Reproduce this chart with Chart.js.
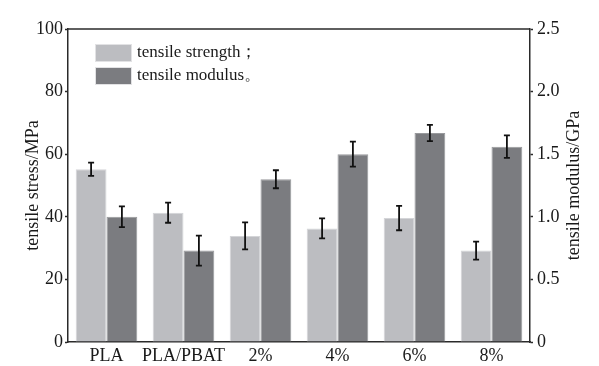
<!DOCTYPE html>
<html>
<head>
<meta charset="utf-8">
<script src="https://cdn.jsdelivr.net/npm/chart.js@4.4.0/dist/chart.umd.min.js"></script>
<style>
  html, body { margin: 0; padding: 0; background: #fff; }
  #wrap { width: 599px; height: 366px; }
</style>
</head>
<body>
<div id="wrap"><canvas id="grafico" width="599" height="366"></canvas></div>
<script>
// dados
var categorias = ['PLA', 'PLA/PBAT', '2%', '4%', '6%', '8%'];
var resistencia = [55.2, 41.3, 33.9, 36.3, 39.6, 29.2];       // MPa
var resistenciaErro = [2.1, 3.2, 4.3, 3.2, 3.9, 2.9];
var modulo = [1.00, 0.73, 1.30, 1.50, 1.67, 1.56];            // GPa
var moduloErro = [0.083, 0.12, 0.072, 0.10, 0.065, 0.09];
var ticksEsquerda = [0, 20, 40, 60, 80, 100];
var ticksDireita = [0, 0.5, 1.0, 1.5, 2.0, 2.5];

var fonte = '"Liberation Serif", "Times New Roman", serif';
var corTexto = '#1a1a1a';
var corEixo = '#2a2a2a';

// barras de erro
var barrasErro = {
  id: 'barrasErro',
  afterDatasetsDraw: function(chart) {
    var ctx = chart.ctx;
    ctx.save();
    ctx.strokeStyle = '#111';
    ctx.lineWidth = 1.8;
    chart.data.datasets.forEach(function(ds, i) {
      var meta = chart.getDatasetMeta(i);
      var escala = chart.scales[ds.yAxisID];
      meta.data.forEach(function(bar, j) {
        var v = ds.data[j], e = ds.erro[j];
        var y1 = escala.getPixelForValue(v + e);
        var y2 = escala.getPixelForValue(v - e);
        ctx.beginPath();
        ctx.moveTo(bar.x, y1); ctx.lineTo(bar.x, y2);
        ctx.moveTo(bar.x - 3, y1); ctx.lineTo(bar.x + 3, y1);
        ctx.moveTo(bar.x - 3, y2); ctx.lineTo(bar.x + 3, y2);
        ctx.stroke();
      });
    });
    ctx.restore();
  }
};

// moldura, legenda e titulos dos eixos
var extras = {
  id: 'extras',
  afterDraw: function(chart) {
    var ctx = chart.ctx;
    var a = chart.chartArea;
    ctx.save();
    ctx.strokeStyle = corEixo;
    ctx.lineWidth = 1.5;
    ctx.beginPath();
    ctx.moveTo(a.left, a.top); ctx.lineTo(a.right, a.top);
    ctx.stroke();

    // legenda dentro da area
    ctx.font = '17px ' + fonte;
    ctx.textBaseline = 'middle';
    ctx.textAlign = 'left';
    chart.data.datasets.forEach(function(ds, i) {
      var x = a.left + 27, y = a.top + 15 + i * 23;
      ctx.fillStyle = ds.backgroundColor;
      ctx.fillRect(x, y, 37, 18);
      ctx.strokeStyle = '#e2e2e4';
      ctx.lineWidth = 1;
      ctx.strokeRect(x + 0.5, y + 0.5, 36, 17);
      ctx.fillStyle = corTexto;
      ctx.fillText(ds.label, x + 42, y + 9);
    });

    // titulos, lidos de baixo para cima
    var meio = (a.top + a.bottom) / 2;
    ctx.font = '18px ' + fonte;
    ctx.textAlign = 'center';
    [[33, 'tensile stress/MPa'], [574, 'tensile modulus/GPa']].forEach(function(t) {
      ctx.save();
      ctx.translate(t[0], meio);
      ctx.rotate(-Math.PI / 2);
      ctx.fillText(t[1], 0, 0);
      ctx.restore();
    });
    ctx.restore();
  }
};

var ctx = document.getElementById('grafico').getContext('2d');
var grafico = new Chart(ctx, {
  type: 'bar',
  data: {
    labels: categorias,
    datasets: [{
      label: 'tensile strength；',
      data: resistencia,
      erro: resistenciaErro,
      yAxisID: 'y',
      backgroundColor: '#bcbdc1',
      borderColor: '#d4d5d8',
      borderWidth: 1
    }, {
      label: 'tensile modulus。',
      data: modulo,
      erro: moduloErro,
      yAxisID: 'y1',
      backgroundColor: '#7b7c80',
      borderColor: '#98999c',
      borderWidth: 1
    }]
  },
  options: {
    responsive: false,
    animation: false,
    layout: { padding: { top: 29, left: 0, right: 0, bottom: 0 } },
    datasets: { bar: { categoryPercentage: 0.8, barPercentage: 1.0 } },
    plugins: {
      legend: { display: false },
      tooltip: { enabled: false }
    },
    scales: {
      x: {
        grid: { display: false, drawTicks: false },
        border: { color: corEixo, width: 1.5 },
        ticks: { color: corTexto, font: { family: fonte, size: 18 }, padding: 3, maxRotation: 0, autoSkip: false },
        afterFit: function(s) { s.height = 24; }
      },
      y: {
        position: 'left',
        min: 0, max: 100,
        afterBuildTicks: function(s) { s.ticks = ticksEsquerda.map(function(v) { return { value: v }; }); },
        grid: { drawOnChartArea: false, tickLength: 3, tickColor: corEixo, tickWidth: 1.5 },
        border: { color: corEixo, width: 1.5 },
        ticks: { color: corTexto, font: { family: fonte, size: 18 }, padding: 2 },
        afterFit: function(s) { s.width = 68; }
      },
      y1: {
        position: 'right',
        min: 0, max: 2.5,
        afterBuildTicks: function(s) { s.ticks = ticksDireita.map(function(v) { return { value: v }; }); },
        grid: { drawOnChartArea: false, tickLength: 3, tickColor: corEixo, tickWidth: 1.5 },
        border: { color: corEixo, width: 1.5 },
        ticks: {
          color: corTexto, font: { family: fonte, size: 18 }, padding: 4,
          callback: function(v) { return v === 0 ? '0' : v.toFixed(1); }
        },
        afterFit: function(s) { s.width = 69; }
      }
    }
  },
  plugins: [barrasErro, extras]
});
</script>
</body>
</html>
